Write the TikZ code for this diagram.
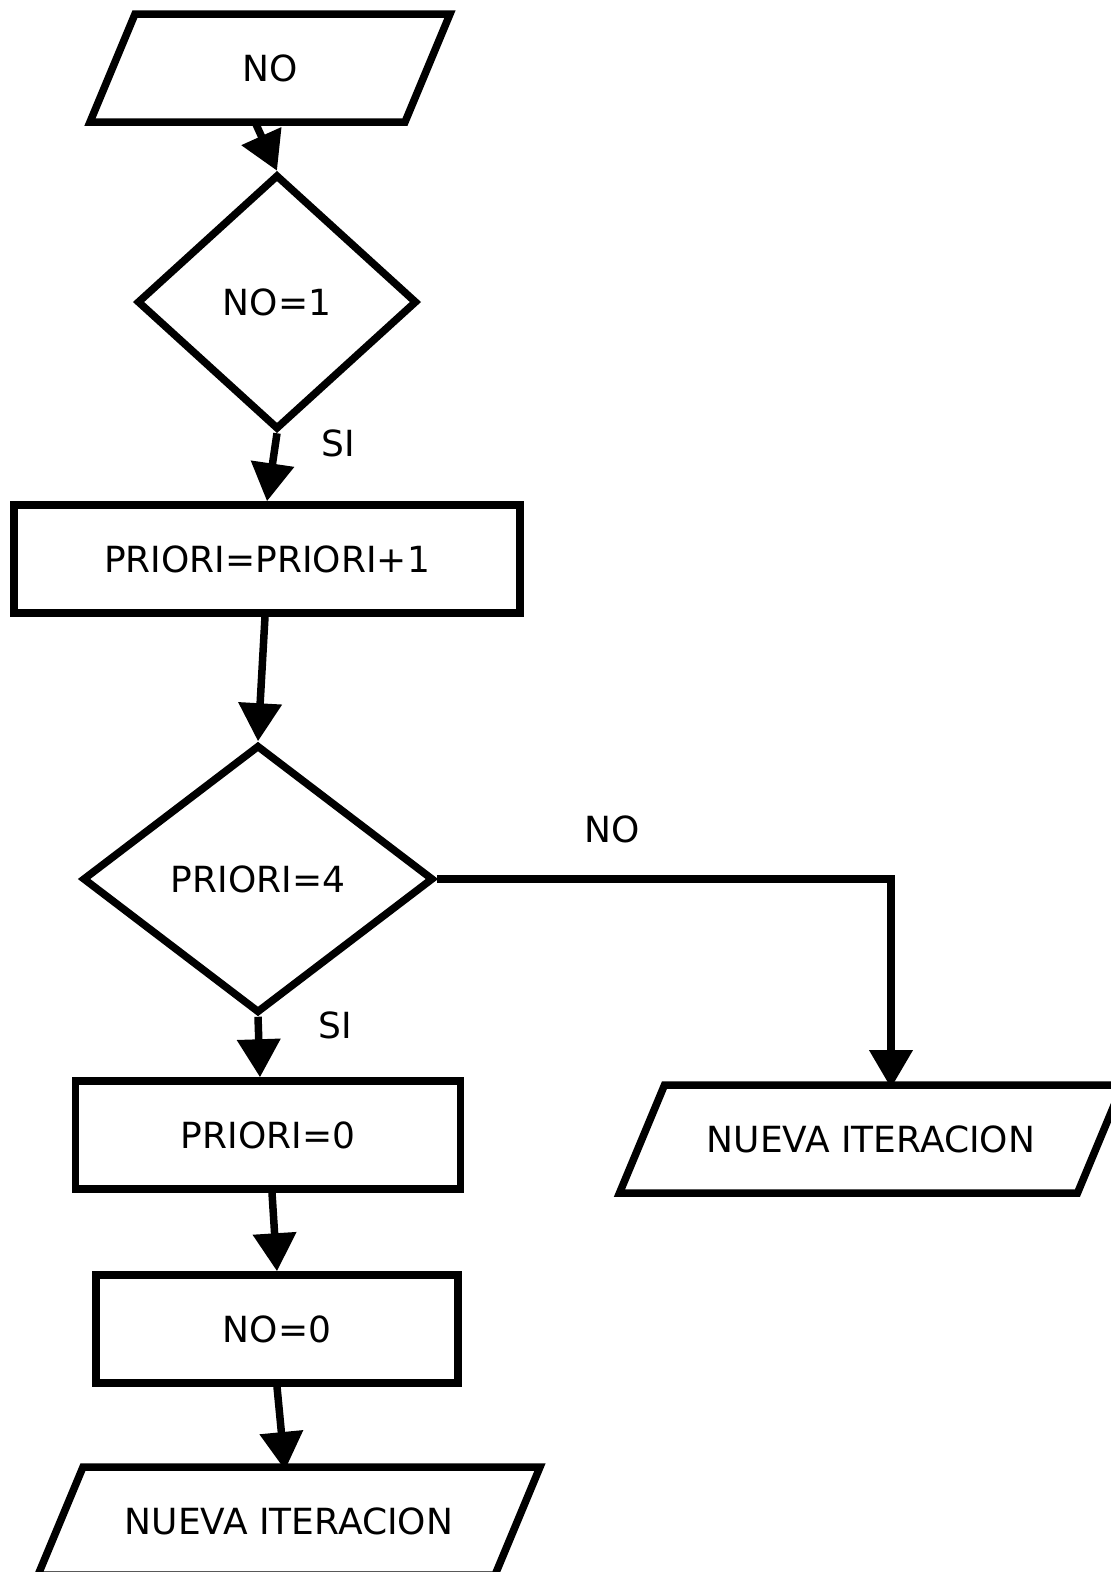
\documentclass[tikz,border=0pt]{standalone}
\usepackage{fontspec}
\setmainfont{DejaVu Sans}
\usetikzlibrary{shapes.geometric,arrows.meta}

\begin{document}
\begin{tikzpicture}[x=1pt,y=-1pt,line width=7.5pt,
        font=\fontsize{36}{40}\selectfont,
        box/.style={rectangle,draw,inner sep=0pt,minimum height=108pt},
        decision/.style={diamond,draw,inner sep=0pt},
        io/.style={rectangle,inner sep=0pt,outer sep=0pt,minimum height=108pt},
        arr/.style={-{Triangle[width=42pt,length=38pt]}}]

    \useasboundingbox (0,0) rectangle (1111,1572);

    \node[io,minimum width=315pt] (no) at (270,68) {NO};
    \node[decision,minimum width=280pt,minimum height=255pt] (d1) at (277,302) {NO=1};
    \node[box,minimum width=506pt] (r1) at (267,559) {PRIORI=PRIORI+1};
    \node[decision,minimum width=351pt,minimum height=268pt] (d2) at (258,879) {PRIORI=4};
    \node[io,minimum width=458pt] (p2) at (871,1139) {NUEVA ITERACION};
    \node[box,minimum width=385pt] (r2) at (268,1135) {PRIORI=0};
    \node[box,minimum width=362pt] (r3) at (277,1329) {NO=0};
    \node[io,minimum width=457pt] (p3) at (289,1521) {NUEVA ITERACION};

    \foreach \n in {no,p2,p3}
        \draw ([xshift=22.5pt]\n.north west) -- ([xshift=22.5pt]\n.north east)
            -- ([xshift=-22.5pt]\n.south east) -- ([xshift=-22.5pt]\n.south west) -- cycle;

    \node (si1) at (338,443) {SI};
    \node (no2) at (612,829) {NO};
    \node (si2) at (335,1025) {SI};

    \draw[arr] ([xshift=-15pt]no.south) -- (d1.north);
    \draw[arr] (d1.south) -- (r1.north);
    \draw[arr] ([xshift=-2pt]r1.south) -- (d2.north);
    \draw[arr] (d2.south) -- ([xshift=-8pt]r2.north);
    \draw[arr] (d2.east) -| ([xshift=20pt,yshift=-3pt]p2.north);
    \draw[arr] ([xshift=4pt]r2.south) -- (r3.north);
    \draw[arr] (r3.south) -- ([xshift=-4pt,yshift=-3pt]p3.north);
\end{tikzpicture}
\end{document}
